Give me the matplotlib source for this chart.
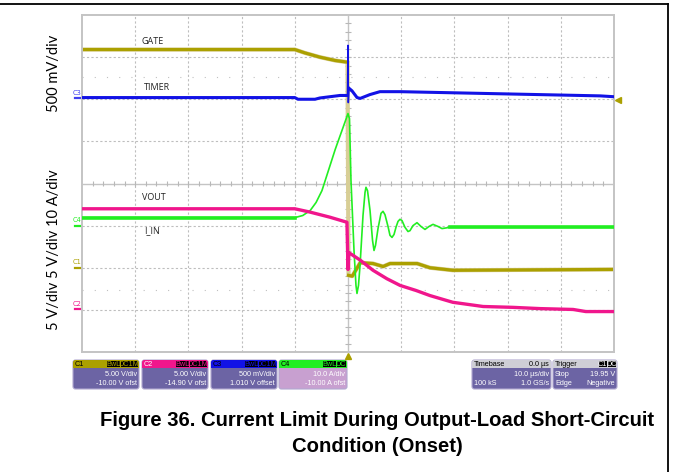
import numpy as np
import matplotlib
matplotlib.use("Agg")
import matplotlib.pyplot as plt
from matplotlib.patches import FancyBboxPatch, Rectangle

# channel settings
c1_scale, c1_offset = 5.0, -10.0    # GATE, V/div, V
c2_scale, c2_offset = 5.0, -14.90   # VOUT
c3_scale, c3_offset = 0.5, 1.010    # TIMER
c4_scale, c4_offset = 10.0, -10.0   # I_IN, A/div, A
trig_level = 19.95                  # V on C1

# GATE (C1), time in us
gate_t = [-50, -10.0, -8.1, -5.3, -2.4, -0.1, 0.1, 0.8, 2.3, 4.7, 6.6, 7.9, 13.0, 15.4, 19.7, 50]
gate_v = [25.9, 25.9, 25.5, 25.0, 24.6, 24.4, -0.9, -1.0, 0.6, 0.5, 0.15, 0.5, 0.5, 0.0, -0.3, -0.2]

# TIMER (C3)
timer_t = [-50, -10.0, -9.4, -6.2, -5.3, -1.5, -0.1, 0.0, 0.06, 0.2, 0.75, 1.7, 2.3,
           4.1, 6.0, 9.8, 17.3, 24.8, 36.1, 47.4, 50]
timer_v = [0.01, 0.01, -0.01, -0.01, 0.005, 0.035, 0.035, 0.63, -0.05, 0.12, 0.09, 0.01, 0.0,
           0.045, 0.08, 0.08, 0.07, 0.06, 0.045, 0.03, 0.02]

# VOUT (C2)
vout_t = [-50, -10.0, -7.1, -3.4, -0.2, 0.0, 0.15, 2.3, 4.7, 7.3, 9.8, 12.8, 15.4,
          19.7, 25.4, 31.0, 36.1, 42.3, 44.7, 50]
vout_v = [11.9, 11.9, 11.5, 10.9, 10.3, 4.7, 6.7, 5.8, 4.6, 3.6, 2.8, 2.2, 1.6,
          0.8, 0.3, 0.2, 0.05, -0.05, -0.3, -0.3]

# I_IN (C4)
iin_t = [-50, -10.0, -8.5, -7.1, -6.0, -4.9, -2.4, 0.0, 0.28, 0.56, 1.13, 1.5, 1.69, 1.97,
         2.26, 2.82, 3.2, 3.38, 3.67, 4.14, 4.61, 4.89, 5.17, 5.64, 6.2, 6.58, 6.95,
         7.52, 7.89, 8.27, 8.65, 9.02, 9.4, 9.77, 10.15, 10.71, 11.28, 11.65, 12.22,
         12.97, 13.72, 14.47, 15.23, 15.98, 16.92, 17.67, 19.17, 50]
iin_a = [1.9, 1.9, 2.4, 3.6, 5.5, 8.3, 18.1, 26.6, 25.4, 10.7, -5.9, -14.2, -16.1, -14.2,
         -9.5, 2.4, 7.9, 9.1, 8.3, 3.6, -3.5, -5.9, -4.7, -0.7, 2.9, 3.4, 2.6,
         -0.2, -2.3, -2.8, -2.1, -0.4, 1.0, 1.5, 1.2, -0.4, -1.4, -1.2, 0.0,
         0.7, -0.2, -0.9, -0.2, 0.3, -0.2, -0.7, -0.4, -0.4]


def to_div(vals, scale, offset):
    return np.asarray(vals) / scale + offset / scale


olive = '#ABA000'
pink = '#F0168C'
blue = '#1212E6'
green = '#22EE22'

fig = plt.figure(figsize=(6.73, 4.72), dpi=100)

# page layer in pixel coordinates
bg = fig.add_axes([0, 0, 1, 1])
bg.set_xlim(0, 673)
bg.set_ylim(472, 0)
bg.axis('off')

ax = fig.add_axes([82 / 673, (472 - 352) / 472, 532 / 673, 337 / 472])
ax.set_facecolor('none')
ax.set_xlim(-50, 50)
ax.set_ylim(-4, 4)
ax.set_xticks([])
ax.set_yticks([])
for s in ax.spines.values():
    s.set_color('#C4C4C4')
    s.set_linewidth(1.4)

# graticule
grid_kw = dict(color='#BEBEBE', lw=0.8, ls=(0, (2, 2)), zorder=0)
for x in range(-40, 50, 10):
    if x != 0:
        ax.axvline(x, **grid_kw)
for y in range(-3, 4):
    if y != 0:
        ax.axhline(y, **grid_kw)
ax.axvline(0, color='#C4C4C4', lw=1, zorder=0)
ax.axhline(0, color='#C4C4C4', lw=1, zorder=0)
ax.vlines(np.arange(-48, 50, 2), -0.07, 0.07, color='#B8B8B8', lw=0.8, zorder=0)
ax.hlines(np.arange(-3.8, 4, 0.2), -0.56, 0.56, color='#B8B8B8', lw=0.8, zorder=0)
for y in (2.52, -2.52):
    ax.axhline(y, color='#C0C0C0', lw=0.8, ls=(0, (1, 10)), zorder=0)

# traces
gate_y = to_div(gate_v, c1_scale, c1_offset)
ax.plot(gate_t, gate_y, color='#D8CE96', lw=3, zorder=1)
ax.plot(gate_t[:6], gate_y[:6], color=olive, lw=2.3, zorder=2)
ax.plot(gate_t[6:], gate_y[6:], color=olive, lw=2.3, zorder=2)

iin_y = to_div(iin_a, c4_scale, c4_offset)
iin_tt = np.asarray(iin_t)
ax.plot(iin_t, iin_y, color=green, lw=1.2, zorder=3)
ax.plot(iin_tt[:2], iin_y[:2], color=green, lw=2.6, zorder=3)
ax.plot(iin_tt[-2:], iin_y[-2:], color=green, lw=2.6, zorder=3)

ax.plot(vout_t, to_div(vout_v, c2_scale, c2_offset), color=pink, lw=2.4, zorder=4)

timer_y = to_div(timer_v, c3_scale, c3_offset)
timer_tt = np.asarray(timer_t)
ax.plot(timer_tt[:7], timer_y[:7], color=blue, lw=2.2, zorder=5)
ax.plot(timer_tt[6:10], timer_y[6:10], color=blue, lw=1.1, zorder=5)
ax.plot(timer_tt[9:], timer_y[9:], color=blue, lw=2.2, zorder=5)

# channel ground markers on the left edge
ytr = ax.get_yaxis_transform()
for name, col, sc, off in [('C3', '#4040F0', c3_scale, c3_offset), ('C4', green, c4_scale, c4_offset),
                           ('C1', olive, c1_scale, c1_offset), ('C2', pink, c2_scale, c2_offset)]:
    lvl = off / sc
    ax.plot([-0.014, -0.002], [lvl, lvl], color=col, lw=1.6, transform=ytr, clip_on=False)
    ax.text(-0.009, lvl + 0.06, name, color=col, fontsize=4.8, ha='center', va='bottom',
            transform=ytr, clip_on=False)

# trigger markers
ax.plot([1.008], [trig_level / c1_scale + c1_offset / c1_scale], marker='<', color=olive, ms=4.5,
        transform=ytr, clip_on=False)
ax.plot([0], [-0.012], marker='^', color=olive, ms=4.5, transform=ax.get_xaxis_transform(), clip_on=False)

# trace names
lab_kw = dict(fontsize=6.5, color='#222222', va='center', family='Open Sans')
bg.text(142, 41, 'GATE', **lab_kw)
bg.text(144, 88, 'TIMER', **lab_kw)
bg.text(142, 197, 'VOUT', **lab_kw)
bg.text(144, 231, 'I_IN', **lab_kw)

# left axis notes
side_kw = dict(fontsize=10.5, rotation=90, ha='center', va='center', family='Lato', color='black')
bg.text(54, 73, '500 mV/div', **side_kw)
bg.text(54, 250, '5 V/div 5 V/div 10 A/div', **side_kw)


def scope_box(x, y, w, head, body, title, title_col, badges, head_right, rows):
    h = 29
    outer = FancyBboxPatch((x, y), w, h, boxstyle='round,pad=0,rounding_size=2.5',
                           fc=body, ec='#B0A8D0', lw=0.8)
    bg.add_patch(outer)
    hdr = Rectangle((x, y), w, 7.5, fc=head, ec='none')
    bg.add_patch(hdr)
    hdr.set_clip_path(outer)
    fk = dict(fontsize=5.2, va='center', family='Liberation Sans')
    bg.text(x + 2, y + 4, title, color=title_col, ha='left', **fk)
    bx = x + w - 1.5
    for lab, bw, tc in reversed(badges):
        bg.add_patch(Rectangle((bx - bw, y + 1), bw, 5.8, fc='black', ec='none'))
        bg.text(bx - bw / 2, y + 4, lab, color=tc, ha='center', **fk)
        bx -= bw + 1
    if head_right:
        bg.text(x + w - 2, y + 4, head_right, color='black', ha='right', **fk)
    for (left, right), ry in zip(rows, (y + 15, y + 23.5)):
        if left:
            bg.text(x + 2, ry, left, color='white', ha='left', **fk)
        if right:
            bg.text(x + w - 2, ry, right, color='white', ha='right', **fk)


body = '#6C64A4'
scope_box(73, 360, 66, olive, body, 'C1', 'black', [('BwL', 13, olive), ('DC1M', 17, olive)], '',
          [('', '5.00 V/div'), ('', '-10.00 V ofst')])
scope_box(142, 360, 66, pink, body, 'C2', 'white', [('BwL', 13, pink), ('DC1M', 17, pink)], '',
          [('', '5.00 V/div'), ('', '-14.90 V ofst')])
scope_box(211, 360, 66, blue, body, 'C3', 'black', [('BwL', 13, blue), ('DC1M', 17, blue)], '',
          [('', '500 mV/div'), ('', '1.010 V offset')])
scope_box(279, 360, 68, green, '#C8A0D0', 'C4', 'black', [('BwL', 13, green), ('DC', 9, green)], '',
          [('', '10.0 A/div'), ('', '-10.00 A ofst')])
scope_box(472, 360, 79, '#CFCFD6', body, 'Timebase', 'black', [], '0.0 \u00b5s',
          [('', '10.0 \u00b5s/div'), ('100 kS', '1.0 GS/s')])
scope_box(553, 360, 64, '#CFCFD6', body, 'Trigger', 'black', [('C1', 8, 'white'), ('DC', 8, 'white')], '',
          [('Stop', '19.95 V'), ('Edge', 'Negative')])

# page border and caption
bg.plot([0, 668], [4, 4], color='black', lw=1.3)
bg.plot([668, 668], [4, 472], color='black', lw=1.3)
cap_kw = dict(fontsize=14.6, weight='bold', ha='center', va='center', family='Liberation Sans')
bg.text(377, 420, 'Figure 36. Current Limit During Output-Load Short-Circuit', **cap_kw)
bg.text(377, 446, 'Condition (Onset)', **cap_kw)

fig.savefig('out.png', dpi=100)
